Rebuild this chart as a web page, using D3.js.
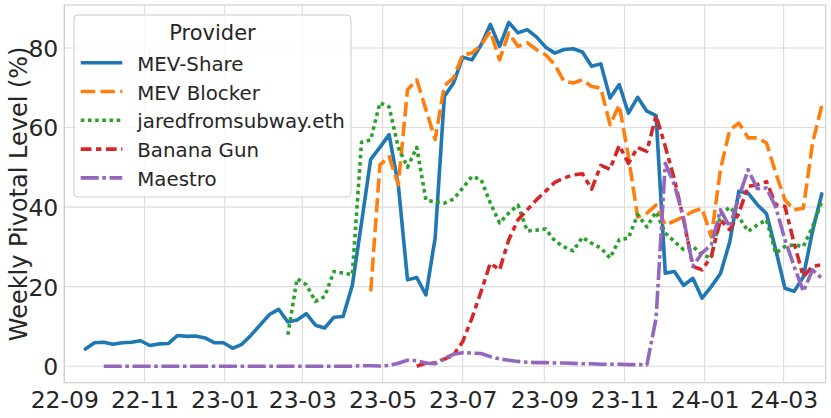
<!DOCTYPE html>
<html><head><meta charset="utf-8">
<script src="https://cdn.jsdelivr.net/npm/d3@7/dist/d3.min.js"></script>
<style>
body{margin:0;background:#fff}
svg{display:block}
text{font-family:"DejaVu Sans",sans-serif;fill:#262626}
</style>
</head><body>
<svg id="chart" width="831" height="418"></svg>
<script>
// ---------- data ----------
const firstWeek = "2022-09-17";   // week 0
const weekCount = 81;
const providers = ["MEV-Share", "MEV Blocker", "jaredfromsubway.eth", "Banana Gun", "Maestro"];
const seriesStart = [0, 31, 22, 36, 2];   // index of first week with a value

const mevShare = [4.3,5.9,6.0,5.5,5.9,6.0,6.4,5.2,5.6,5.7,7.7,7.5,7.6,7.1,5.9,5.9,4.5,5.5,7.8,10.4,
  13.0,14.3,11.1,11.6,13.2,10.3,9.6,12.3,12.5,20.3,36,52,55,58.2,45.5,21.7,22.3,17.9,32.2,67.8,
  71.2,77.7,77.0,80.8,85.9,80.4,86.4,83.8,84.6,82.8,80.2,78.7,79.6,79.8,79.0,75.4,76.0,67.4,70.8,63.6,
  67.6,64.1,63.0,23.4,23.8,20.3,22.1,17.1,20.0,23.3,31.2,44.0,43.5,40.6,38.3,29.3,19.6,18.8,22.5,34.0,43.3];
const mevBlocker = [18.8,50.6,52.7,45.6,69.5,72.0,64.5,57.0,70.5,72.5,78.3,78.7,80.8,84.2,77.0,83.8,80.4,81.3,79.6,78.3,
  75.8,71.6,71.2,72.0,70.3,69.9,60.7,65.7,52.7,37.5,38.5,40.5,35.5,36.5,37.6,38.9,39.7,32.5,49.5,59.4,
  61.1,57.4,57.4,56.1,48.6,41.8,39.3,39.7,56.1,65.5];
const jared = [7.9,22.0,20.5,16.3,17.5,23.8,23.4,23.0,56.3,56.9,66.2,65.2,55,50,55,41.8,41.3,41.0,42.0,44.8,
  47.7,46.9,41.0,36.0,38.5,40.5,34.0,34.2,34.5,31.5,30.0,29.0,32.4,30.9,29.7,27.2,31.8,32.2,38.1,35.0,
  38.8,33.5,31.3,29.3,30.1,28.0,27.2,38,40,37.5,33.9,35.5,36.8,28.4,30.1,30.5,30.1,35.1,41.4];
const bananaGun = [0,0.8,0.8,1.8,2.8,6.2,12.1,18.8,25.9,24.2,31.8,36.8,39.3,41.8,44.0,46.2,47.3,48.1,48.4,44.5,
  50.5,49.5,55.5,51.0,55.0,54.0,63.0,55.2,46.9,36.8,25.1,24.2,27.6,36.8,34.3,38.5,45.2,45.6,46.4,40.6,
  40.2,30.9,22.5,25.1,25.5];
const maestro = [0,0,0,0,0,0,0,0,0,0,0,0,0,0,0,0,0,0,0,0,
  0,0,0,0,0,0,0,0,0.1,0.1,0.05,0.2,0.75,1.5,1.4,0.8,0.6,2.0,3.0,3.4,
  3.3,3.2,2.4,1.8,1.5,1.2,1.0,0.9,0.9,0.8,0.8,0.7,0.6,0.6,0.5,0.5,0.5,0.4,0.4,0.3,
  12,51,45.6,37,25.1,28.5,30.5,39.3,35.0,42.5,49.4,44.6,44.8,40,31.8,25.1,18.8,24.2,22.1];
const seriesValues = [mevShare, mevBlocker, jared, bananaGun, maestro];

const xTickLabels = ["22-09","22-11","23-01","23-03","23-05","23-07","23-09","23-11","24-01","24-03"];
const yTicks = [0, 20, 40, 60, 80];

// ---------- styles ----------
const colors = ["#1f77b4", "#ff7f0e", "#2ca02c", "#d62728", "#9467bd"];
const LW = 3.6;
const dashUnits = [null, [4,1.5], [1,1], [3,1.25,1.5,1.25], [5,1,1,1]];
const dashes = dashUnits.map(d => d ? d.map(v => (v*LW).toFixed(2)).join(",") : null);

// ---------- layout ----------
const svg = d3.select("#chart");
const L = 64.3, R = 825.7, T = 5, B = 382.7;
const parse = d3.timeParse("%Y-%m-%d");
const t0 = parse(firstWeek);
const weekDates = d3.range(weekCount).map(i => d3.timeDay.offset(t0, 7*i));

const x = d3.scaleTime().domain([parse("2022-09-01"), parse("2024-04-02")]).range([L, R]);
const y = d3.scaleLinear().domain([-4.15, 90.8]).range([B, T]);
const tickDates = xTickLabels.map(s => d3.timeParse("%y-%m")(s));

// grid
const grid = svg.append("g");
grid.selectAll(".gx").data(tickDates).join("line")
  .attr("x1", d => x(d)).attr("x2", d => x(d)).attr("y1", T).attr("y2", B)
  .attr("stroke", "#dcdcdc").attr("stroke-width", 1.1);
grid.selectAll(".gy").data(yTicks).join("line")
  .attr("x1", L).attr("x2", R).attr("y1", d => y(d)).attr("y2", d => y(d))
  .attr("stroke", "#dcdcdc").attr("stroke-width", 1.1);

// axes (labels only)
const xAxis = d3.axisBottom(x).tickValues(tickDates).tickFormat(d3.timeFormat("%y-%m")).tickSize(0).tickPadding(0);
const gx = svg.append("g").attr("transform", `translate(0,${B})`).call(xAxis);
gx.select(".domain").remove();
gx.selectAll("text").attr("font-size", 23.5).attr("dy", 0).attr("y", 25.3)
  .style("font-family", '"DejaVu Sans",sans-serif').attr("fill", "#262626");

const yAxis = d3.axisLeft(y).tickValues(yTicks).tickFormat(d3.format("d")).tickSize(0).tickPadding(6);
const gy = svg.append("g").attr("transform", `translate(${L},0)`).call(yAxis);
gy.select(".domain").remove();
gy.selectAll("text").attr("font-size", 23.5).attr("dy", "0.36em")
  .style("font-family", '"DejaVu Sans",sans-serif').attr("fill", "#262626");

svg.append("text").attr("transform", `translate(27,${(T+B)/2}) rotate(-90)`)
  .attr("text-anchor", "middle").attr("font-size", 24).text("Weekly Pivotal Level (%)");

// lines
const line = d3.line().x(d => x(d.date)).y(d => y(d.v)).curve(d3.curveLinear);
const gl = svg.append("g");
seriesValues.forEach((vals, i) => {
  const pts = vals.map((v, j) => ({date: weekDates[seriesStart[i] + j], v}));
  const p = gl.append("path").datum(pts).attr("d", line)
    .attr("fill", "none").attr("stroke", colors[i]).attr("stroke-width", LW)
    .attr("stroke-linejoin", "round").attr("stroke-linecap", dashes[i] ? "butt" : "round");
  if (dashes[i]) p.attr("stroke-dasharray", dashes[i]);
});

// frame
svg.append("rect").attr("x", L).attr("y", T).attr("width", R-L).attr("height", B-T)
  .attr("fill", "none").attr("stroke", "#cccccc").attr("stroke-width", 1.1);

// legend
const lg = svg.append("g");
lg.append("rect").attr("x", 74).attr("y", 15).attr("width", 277).attr("height", 182).attr("rx", 4)
  .attr("fill", "#fff").attr("fill-opacity", 0.8).attr("stroke", "#cccccc").attr("stroke-width", 1);
lg.append("text").attr("x", 212.5).attr("y", 40).attr("text-anchor", "middle").attr("font-size", 21).text("Provider");
providers.forEach((name, i) => {
  const yb = 70.7 + i*28.8;
  const ln = lg.append("line").attr("x1", 80.7).attr("x2", 122.3).attr("y1", yb-8).attr("y2", yb-8)
    .attr("stroke", colors[i]).attr("stroke-width", LW).attr("stroke-linecap", "butt");
  if (dashes[i]) ln.attr("stroke-dasharray", dashes[i]);
  lg.append("text").attr("x", 137.3).attr("y", yb).attr("font-size", 19.8).text(name);
});
</script>
</body></html>
